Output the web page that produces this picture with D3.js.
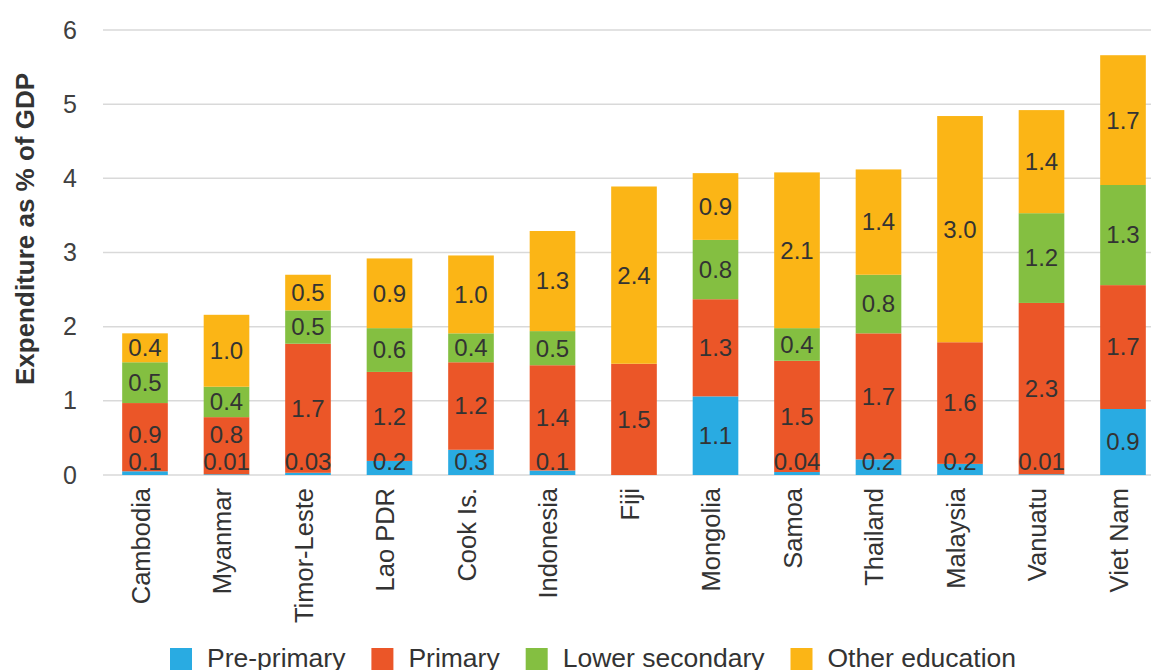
<!DOCTYPE html>
<html><head><meta charset="utf-8">
<script src="https://cdn.jsdelivr.net/npm/d3@7"></script>
<style>body{margin:0;background:#fff} text{font-family:"Liberation Sans",Arial,sans-serif}</style>
</head><body><svg id="c" width="1151" height="670"></svg>
<script>
const categories = ["Cambodia","Myanmar","Timor-Leste","Lao PDR","Cook Is.","Indonesia","Fiji","Mongolia","Samoa","Thailand","Malaysia","Vanuatu","Viet Nam"];
const seriesNames = ["Pre-primary","Primary","Lower secondary","Other education"];
const seriesColors = ["#29ABE2","#EB5628","#84BF41","#FBB516"];
const prePrimary     = [0.05,0.01,0.03,0.19,0.34,0.06,0.00,1.06,0.04,0.21,0.15,0.01,0.89];
const primary        = [0.92,0.77,1.74,1.20,1.18,1.42,1.50,1.31,1.50,1.70,1.64,2.31,1.67];
const lowerSecondary = [0.55,0.41,0.45,0.59,0.39,0.46,0.00,0.80,0.44,0.79,0.00,1.21,1.35];
const otherEducation = [0.39,0.97,0.48,0.94,1.05,1.35,2.39,0.90,2.10,1.42,3.05,1.39,1.75];
const prePrimaryLabels     = ["0.1","0.01","0.03","0.2","0.3","0.1","","1.1","0.04","0.2","0.2","0.01","0.9"];
const primaryLabels        = ["0.9","0.8","1.7","1.2","1.2","1.4","1.5","1.3","1.5","1.7","1.6","2.3","1.7"];
const lowerSecondaryLabels = ["0.5","0.4","0.5","0.6","0.4","0.5","","0.8","0.4","0.8","","1.2","1.3"];
const otherEducationLabels = ["0.4","1.0","0.5","0.9","1.0","1.3","2.4","0.9","2.1","1.4","3.0","1.4","1.7"];
const yTicks = [0,1,2,3,4,5,6];
const yTitle = "Expenditure as % of GDP";

const seriesValues = [prePrimary, primary, lowerSecondary, otherEducation];
const seriesLabels = [prePrimaryLabels, primaryLabels, lowerSecondaryLabels, otherEducationLabels];

const svg = d3.select("#c");
const y = d3.scaleLinear().domain([0,6]).range([475,30]);
const x = d3.scaleBand().domain(categories).range([104.25,1163.75]).paddingInner(0.44).paddingOuter(0.22);
const txt = "#333333";
const ff = '"Liberation Sans",Arial,sans-serif';

// gridlines
svg.append("g").selectAll("line").data(yTicks).join("line")
  .attr("x1",103).attr("x2",1151)
  .attr("y1",d=>y(d)).attr("y2",d=>y(d))
  .attr("stroke","#d9d9d9").attr("stroke-width",1.5);

// y axis labels
const yAxis = d3.axisLeft(y).tickValues(yTicks).tickSize(0).tickPadding(0).tickFormat(d3.format("d"));
const ya = svg.append("g").attr("transform","translate(77,0)").call(yAxis);
ya.select(".domain").remove();
ya.selectAll("text").attr("font-size",25).attr("fill","#404040").style("font-family",ff);

// stacked data
const rows = categories.map((c,i)=>{const o={cat:c}; seriesNames.forEach((s,j)=>o[s]=seriesValues[j][i]); return o;});
const stack = d3.stack().keys(seriesNames)(rows);

const g = svg.append("g");
stack.forEach((layer,j)=>{
  g.append("g").selectAll("rect").data(layer).join("rect")
    .attr("x",d=>x(d.data.cat)).attr("width",x.bandwidth())
    .attr("y",d=>y(d[1])).attr("height",d=>Math.max(0,y(d[0])-y(d[1])))
    .attr("fill",seriesColors[j]);
});
// label positions: centred in segment, kept above the axis and clear of the label below
const labelY = categories.map(()=>[]);
categories.forEach((c,i)=>{
  let below = 489;
  stack.forEach((layer,j)=>{
    const d = layer[i];
    let ly = Math.min((y(d[0])+y(d[1]))/2, 462, below-27);
    if (seriesLabels[j][i]==="") { labelY[i][j]=null; return; }
    labelY[i][j]=ly; below = ly;
  });
});
stack.forEach((layer,j)=>{
  g.append("g").selectAll("text").data(layer).join("text")
    .attr("x",d=>x(d.data.cat)+x.bandwidth()/2)
    .attr("y",(d,i)=>labelY[i][j]===null?0:labelY[i][j])
    .attr("dy","0.35em").attr("text-anchor","middle")
    .attr("font-size",24).attr("fill",txt)
    .text((d,i)=>seriesLabels[j][i]);
});

// x axis labels
const xAxis = d3.axisBottom(x).tickSize(0).tickPadding(0);
const xa = svg.append("g").attr("transform","translate(0,475)").call(xAxis);
xa.select(".domain").remove();
xa.selectAll("text").attr("transform","rotate(-90)").attr("text-anchor","end")
  .attr("x",-13).attr("y",-4).attr("dy","0.35em")
  .attr("font-size",25.5).attr("fill",txt).style("font-family",ff);

// y title
svg.append("text").attr("transform","translate(34,229) rotate(-90)")
  .attr("text-anchor","middle").attr("font-size",26).attr("font-weight","bold").attr("fill",txt)
  .text(yTitle);

// legend
const leg = svg.append("g");
let lx = 170;
seriesNames.forEach((s,j)=>{
  leg.append("rect").attr("x",lx).attr("y",648).attr("width",22).attr("height",22).attr("fill",seriesColors[j]);
  const t = leg.append("text").attr("x",lx+37).attr("y",667).attr("font-size",26.5).attr("fill",txt).text(s);
  lx += 37 + t.node().getComputedTextLength() + 26;
});
</script></body></html>
